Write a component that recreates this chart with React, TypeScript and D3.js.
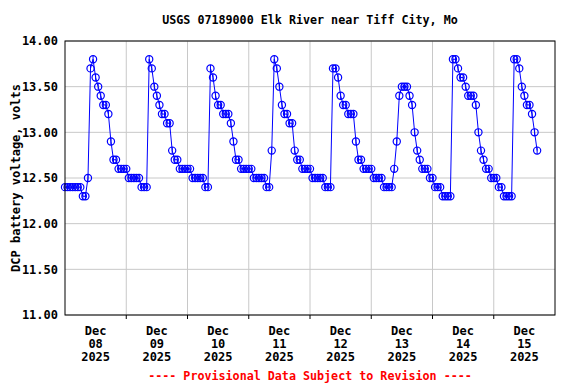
import React from 'react';
import * as d3 from 'd3';

// hourly readings, one array per day (UTC hours 00..23)
const dec08 = [12.4, 12.4, 12.4, 12.4, 12.4, 12.4, 12.4, 12.3, 12.3, 12.5, 13.7, 13.8, 13.6, 13.5, 13.4, 13.3, 13.3, 13.2, 12.9, 12.7, 12.7, 12.6, 12.6, 12.6];
const dec09 = [12.6, 12.5, 12.5, 12.5, 12.5, 12.5, 12.4, 12.4, 12.4, 13.8, 13.7, 13.5, 13.4, 13.3, 13.2, 13.2, 13.1, 13.1, 12.8, 12.7, 12.7, 12.6, 12.6, 12.6];
const dec10 = [12.6, 12.6, 12.5, 12.5, 12.5, 12.5, 12.5, 12.4, 12.4, 13.7, 13.6, 13.4, 13.3, 13.3, 13.2, 13.2, 13.2, 13.1, 12.9, 12.7, 12.7, 12.6, 12.6, 12.6];
const dec11 = [12.6, 12.6, 12.5, 12.5, 12.5, 12.5, 12.5, 12.4, 12.4, 12.8, 13.8, 13.7, 13.5, 13.3, 13.2, 13.2, 13.1, 13.1, 12.8, 12.7, 12.7, 12.6, 12.6, 12.6];
const dec12 = [12.6, 12.5, 12.5, 12.5, 12.5, 12.5, 12.4, 12.4, 12.4, 13.7, 13.7, 13.6, 13.4, 13.3, 13.3, 13.2, 13.2, 13.2, 12.9, 12.7, 12.7, 12.6, 12.6, 12.6];
const dec13 = [12.6, 12.5, 12.5, 12.5, 12.5, 12.4, 12.4, 12.4, 12.4, 12.6, 12.9, 13.4, 13.5, 13.5, 13.5, 13.4, 13.3, 13.0, 12.8, 12.7, 12.6, 12.6, 12.6, 12.5];
const dec14 = [12.5, 12.4, 12.4, 12.4, 12.3, 12.3, 12.3, 12.3, 13.8, 13.8, 13.7, 13.6, 13.6, 13.5, 13.4, 13.4, 13.4, 13.3, 13.0, 12.8, 12.7, 12.6, 12.6, 12.5];
const dec15 = [12.5, 12.5, 12.4, 12.4, 12.3, 12.3, 12.3, 12.3, 13.8, 13.8, 13.7, 13.5, 13.4, 13.3, 13.3, 13.2, 13.0, 12.8];

const days = [dec08, dec09, dec10, dec11, dec12, dec13, dec14, dec15];
const dayLabels = ['08', '09', '10', '11', '12', '13', '14', '15'];
const yTicks = [11.0, 11.5, 12.0, 12.5, 13.0, 13.5, 14.0];

const title = 'USGS 07189000 Elk River near Tiff City, Mo';
const yTitle = 'DCP battery voltage, volts';
const footer = '---- Provisional Data Subject to Revision ----';

const start = Date.UTC(2025, 11, 8);
const HOUR = 3600 * 1000;

const points = days.flat().map((v, i) => ({ date: new Date(start + i * HOUR), value: v }));

export default function App() {
  const width = 576;
  const height = 384;
  const margin = { top: 41, right: 21, bottom: 69, left: 65 };
  const font = '"DejaVu Sans Mono", monospace';

  const x = d3.scaleUtc()
    .domain([new Date(start), new Date(Date.UTC(2025, 11, 16))])
    .range([margin.left, width - margin.right]);
  const y = d3.scaleLinear()
    .domain([11, 14])
    .range([height - margin.bottom, margin.top]);

  const line = d3.line<{ date: Date; value: number }>()
    .x(d => x(d.date))
    .y(d => y(d.value));

  const midnights = d3.utcDay.range(new Date(start + HOUR), new Date(Date.UTC(2025, 11, 16)));
  const noons = d3.utcDay.range(new Date(start), new Date(Date.UTC(2025, 11, 16)))
    .map(d => new Date(+d + 12 * HOUR));

  const x0 = margin.left;
  const x1 = width - margin.right;
  const y0 = margin.top;
  const y1 = height - margin.bottom;
  const cx = (x0 + x1) / 2;

  return (
    <svg width={width} height={height} style={{ position: 'fixed', left: 0, top: 0, background: '#fff' }}
      fontFamily={font} fontWeight="bold">
      <rect width={width} height={height} fill="#fff" />
      <text x={cx} y={24} textAnchor="middle" fontSize={11.7}>{title}</text>

      {yTicks.map(t => (
        <line key={'gy' + t} x1={x0} x2={x1} y1={y(t)} y2={y(t)} stroke="#c8c8c8" strokeWidth={1} />
      ))}
      {midnights.map(d => (
        <line key={'gx' + +d} x1={x(d)} x2={x(d)} y1={y0} y2={y1} stroke="#c8c8c8" strokeWidth={1} />
      ))}

      <path d={line(points) || ''} fill="none" stroke="#0000ff" strokeWidth={1} />
      {points.map((p, i) => (
        <g key={i}>
          <circle cx={x(p.date)} cy={y(p.value)} r={3.6} fill="none" stroke="#0000ff" strokeWidth={1.2} />
          <line x1={x(p.date)} x2={x(p.date)} y1={y(p.value) - 3.6} y2={y(p.value) + 3.6} stroke="#0000ff" strokeWidth={1} />
        </g>
      ))}

      <rect x={x0} y={y0} width={x1 - x0} height={y1 - y0} fill="none" stroke="#000" strokeWidth={1} />

      {yTicks.map(t => (
        <text key={'ty' + t} x={x0 - 7} y={y(t)} dy="0.35em" textAnchor="end" fontSize={12}>{t.toFixed(2)}</text>
      ))}
      {midnights.map(d => (
        <line key={'tk' + +d} x1={x(d)} x2={x(d)} y1={y1} y2={y1 + 4} stroke="#000" />
      ))}
      {noons.map((d, i) => (
        <text key={'tx' + i} x={x(d)} textAnchor="middle" fontSize={12}>
          <tspan x={x(d)} y={335}>Dec</tspan>
          <tspan x={x(d)} y={348}>{dayLabels[i]}</tspan>
          <tspan x={x(d)} y={361}>2025</tspan>
        </text>
      ))}

      <text transform={`translate(20,${(y0 + y1) / 2}) rotate(-90)`} textAnchor="middle" fontSize={12}>{yTitle}</text>
      <text x={cx} y={380} textAnchor="middle" fontSize={11.7} fill="#ff0000">{footer}</text>
    </svg>
  );
}
